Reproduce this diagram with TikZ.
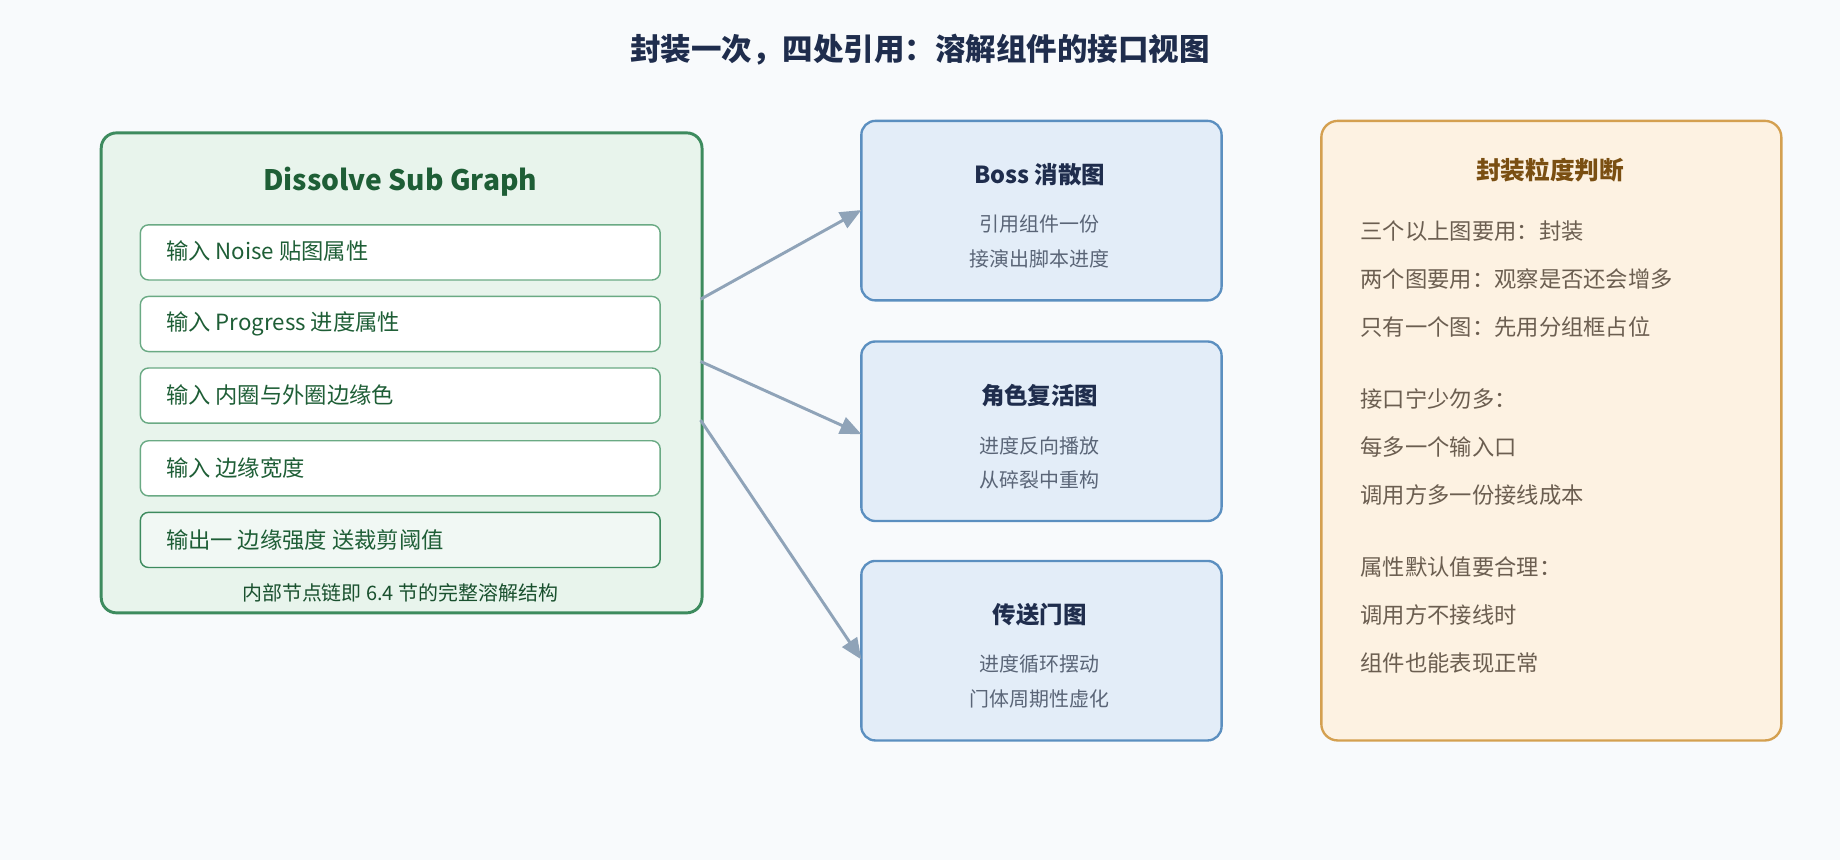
\documentclass[tikz,border=0pt]{standalone}
\usepackage{fontspec}
\setmainfont{Noto Sans CJK SC}
\usetikzlibrary{arrows.meta}
\definecolor{bg}{HTML}{F8FAFC}
\definecolor{ttl}{HTML}{1F2D4D}
\definecolor{gfill}{HTML}{E8F4EC}
\definecolor{gline}{HTML}{3D8B5E}
\definecolor{gtext}{HTML}{1E5E36}
\definecolor{rline}{HTML}{6AAA84}
\definecolor{bfill}{HTML}{E3EDF8}
\definecolor{bline}{HTML}{5B8FC0}
\definecolor{btext}{HTML}{5A6577}
\definecolor{ofill}{HTML}{FDF2E2}
\definecolor{oline}{HTML}{D4A050}
\definecolor{otitle}{HTML}{7A4F12}
\definecolor{otext}{HTML}{6B5E50}
\definecolor{arr}{HTML}{8FA3B8}
\tikzset{
  x=1pt,y=-1pt,
  row/.style={draw=rline,line width=1.2pt,fill=white,rounded corners=7pt,minimum width=443pt,minimum height=47pt,anchor=north west,inner sep=0pt},
  rowtxt/.style={anchor=west,text=gtext,font=\fontsize{19}{22}\selectfont},
  mid/.style={draw=bline,line width=2pt,fill=bfill,rounded corners=12pt,minimum width=307pt,minimum height=153pt,anchor=north west,inner sep=0pt},
  midt/.style={text=ttl,font=\bfseries\fontsize{20}{24}\selectfont},
  midl/.style={text=btext,font=\fontsize{17}{20}\selectfont},
  rt/.style={anchor=west,text=otext,font=\fontsize{19}{22}\selectfont},
  conn/.style={draw=arr,line width=2.5pt,-{Triangle[length=18pt,width=15pt]}}
}
\begin{document}
\begin{tikzpicture}
\fill[bg] (0,0) rectangle (1568,733);
\useasboundingbox (0,0) rectangle (1568,733);
\node[text=ttl,font=\bfseries\fontsize{26}{30}\selectfont] (title) at (784,42) {封装一次，四处引用：溶解组件的接口视图};
% left
\node[draw=gline,line width=2.5pt,fill=gfill,rounded corners=13pt,minimum width=512pt,minimum height=409pt,anchor=north west,inner sep=0pt] (L) at (85,112) {};
\node[text=gtext,font=\bfseries\fontsize{24}{28}\selectfont] (Lt) at (341,155) {Dissolve Sub Graph};
\node[row] (r1) at (119,191) {}; \node[rowtxt] (t1) at (138,214) {输入 Noise 贴图属性};
\node[row] (r2) at (119,252) {}; \node[rowtxt] (t2) at (138,276) {输入 Progress 进度属性};
\node[row] (r3) at (119,313) {}; \node[rowtxt] (t3) at (138,337) {输入 内圈与外圈边缘色};
\node[row] (r4) at (119,375) {}; \node[rowtxt] (t4) at (138,399) {输入 边缘宽度};
\node[row,fill=gfill!60!white,draw=gline] (r5) at (119,436) {}; \node[rowtxt] (t5) at (138,460) {输出一 边缘强度 送裁剪阈值};
\node[text=gtext!85!black,font=\fontsize{17}{20}\selectfont] (Lf) at (341,505) {内部节点链即 6.4 节的完整溶解结构};
% middle
\node[mid] (m1) at (733,102) {};
\node[midt] at (886,149) {Boss 消散图};
\node[midl] at (886,191) {引用组件一份};
\node[midl] at (886,221) {接演出脚本进度};
\node[mid] (m2) at (733,290) {};
\node[midt] at (886,337) {角色复活图};
\node[midl] at (886,380) {进度反向播放};
\node[midl] at (886,409) {从碎裂中重构};
\node[mid] (m3) at (733,477) {};
\node[midt] at (886,524) {传送门图};
\node[midl] at (886,566) {进度循环摆动};
\node[midl] at (886,596) {门体周期性虚化};
% right
\node[draw=oline,line width=2pt,fill=ofill,rounded corners=14pt,minimum width=392pt,minimum height=528pt,anchor=north west,inner sep=0pt] (R) at (1125,102) {};
\node[text=otitle,font=\bfseries\fontsize{21}{25}\selectfont] at (1321,145) {封装粒度判断};
\node[rt] at (1156,197) {三个以上图要用：封装};
\node[rt] at (1156,238) {两个图要用：观察是否还会增多};
\node[rt] at (1156,279) {只有一个图：先用分组框占位};
\node[rt] at (1156,340) {接口宁少勿多：};
\node[rt] at (1156,381) {每多一个输入口};
\node[rt] at (1156,422) {调用方多一份接线成本};
\node[rt] at (1156,483) {属性默认值要合理：};
\node[rt] at (1156,524) {调用方不接线时};
\node[rt] at (1156,565) {组件也能表现正常};
% arrows
\coordinate (a1) at (597,255); \coordinate (a2) at (597,308); \coordinate (a3) at (597,358);
\coordinate (b1) at (734,179); \coordinate (b2) at (734,370); \coordinate (b3) at (734,562);
\draw[conn] (a1) -- (b1);
\draw[conn] (a2) -- (b2);
\draw[conn] (a3) -- (b3);
\end{tikzpicture}
\end{document}
